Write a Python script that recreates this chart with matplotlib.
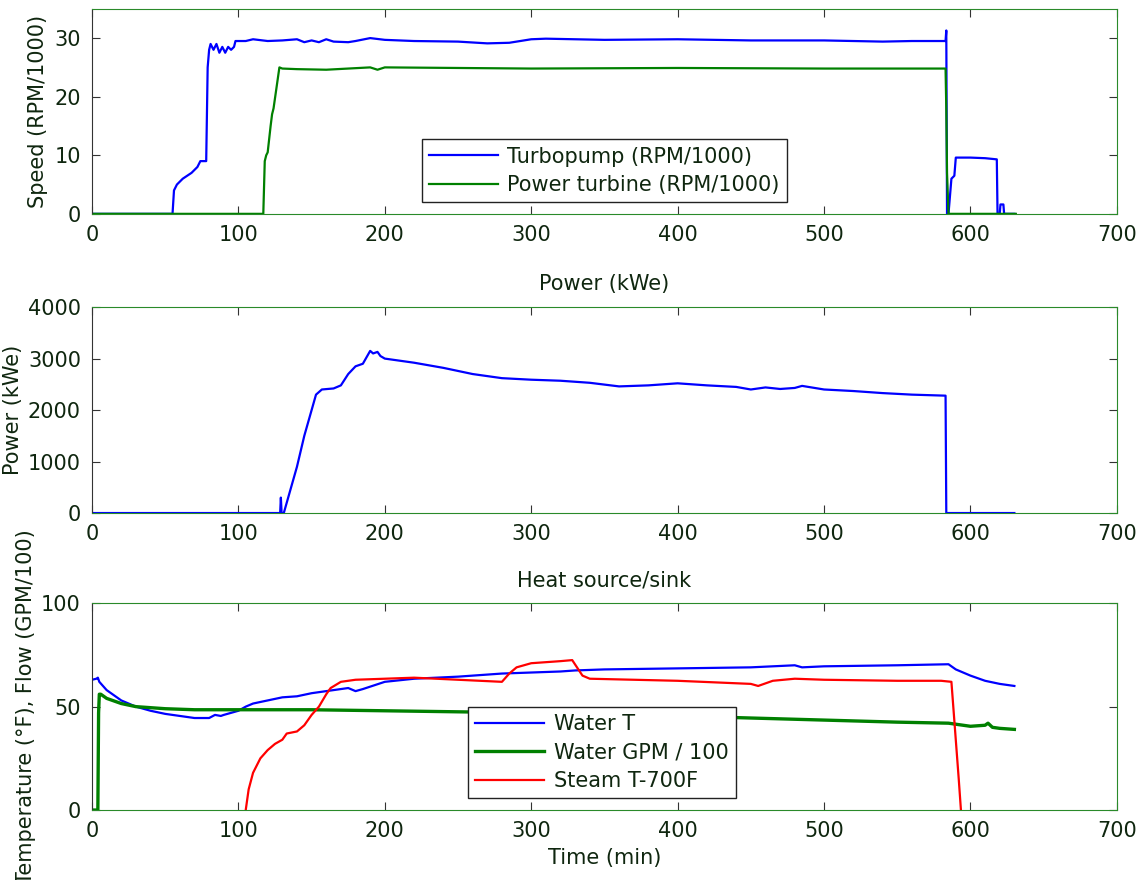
import numpy as np
import matplotlib
matplotlib.use("Agg")
import matplotlib.pyplot as plt

plt.rcParams['font.family'] = ['DejaVu Sans']
plt.rcParams['font.size'] = 15

# ---- data (time in minutes) ----
# turbopump speed (RPM/1000)
tp_t = [0, 55, 56, 58, 60, 62, 65, 68, 70, 72, 74, 78, 79, 80, 81, 83, 85, 87, 89, 91, 93, 95,
        97, 98, 100, 105, 110, 120, 130, 140, 145, 150, 155, 160, 165, 175, 180, 190, 200, 220,
        250, 270, 285, 300, 310, 350, 400, 450, 500, 540, 560, 583, 583.5, 584, 585, 586, 587,
        589, 590, 600, 610, 618, 618.5, 620, 620.5, 622.5, 623, 630]
tp_v = [0, 0, 4, 5, 5.5, 6, 6.5, 7, 7.5, 8, 9, 9, 25, 28, 29, 28, 29, 27.5, 28.5, 27.5, 28.5, 28,
        28.5, 29.5, 29.5, 29.5, 29.8, 29.5, 29.6, 29.8, 29.3, 29.6, 29.3, 29.8, 29.4, 29.3, 29.5,
        30, 29.7, 29.5, 29.4, 29.1, 29.2, 29.8, 29.9, 29.7, 29.8, 29.6, 29.6, 29.4, 29.5, 29.5,
        31.3, 0, 0, 3, 6, 6.5, 9.6, 9.6, 9.5, 9.3, 0, 0, 1.6, 1.6, 0, 0]
# power turbine speed (RPM/1000)
pt_t = [0, 117, 118, 119, 120, 122, 123, 124, 128, 130, 140, 160, 190, 195, 200, 300, 400, 500,
        583, 583.5, 584, 585, 631]
pt_v = [0, 0, 9, 10, 10.5, 15, 17, 18, 25, 24.8, 24.7, 24.6, 25, 24.6, 25, 24.8, 24.9, 24.8,
        24.8, 18, 7, 0, 0]

# electrical power (kWe)
pw_t = [0, 128.5, 129, 129.5, 131, 135, 140, 145, 150, 153, 157, 165, 170, 175, 180, 185, 188,
        190, 192, 195, 197, 200, 220, 240, 260, 280, 300, 320, 340, 360, 380, 400, 420, 440,
        450, 460, 470, 480, 485, 500, 520, 540, 560, 583, 583.5, 630]
pw_v = [0, 0, 300, 0, 0, 400, 900, 1500, 2000, 2300, 2400, 2420, 2480, 2700, 2850, 2900, 3050,
        3150, 3100, 3130, 3050, 3000, 2920, 2820, 2700, 2620, 2590, 2570, 2530, 2460, 2480,
        2520, 2480, 2450, 2400, 2440, 2410, 2430, 2470, 2400, 2370, 2330, 2300, 2280, 0, 0]

# heat source / sink
wt_t = [0, 3, 4, 5, 10, 20, 30, 40, 50, 60, 70, 80, 84, 88, 90, 95, 100, 105, 110, 120, 130,
        140, 150, 160, 170, 175, 180, 185, 200, 220, 250, 280, 300, 320, 330, 350, 400, 450,
        480, 485, 500, 550, 585, 590, 600, 610, 620, 630]
wt_v = [63, 63.5, 64, 62, 58, 53, 50, 48, 46.5, 45.5, 44.5, 44.5, 46, 45.5, 46, 47, 48, 50,
        51.5, 53, 54.5, 55, 56.5, 57.5, 58.5, 59, 57.5, 58.5, 62, 63.5, 64.5, 66, 66.5, 67,
        67.5, 68, 68.5, 69, 70, 69, 69.5, 70, 70.5, 68, 65, 62.5, 61, 60]
gpm_t = [0, 4, 4.5, 5, 6, 10, 20, 30, 50, 70, 100, 150, 200, 250, 300, 350, 400, 450, 500, 550,
         585, 600, 610, 612, 615, 620, 630]
gpm_v = [0, 0, 47, 56, 56, 54, 51.5, 50, 49, 48.5, 48.5, 48.5, 48, 47.5, 47, 46.5, 45.5, 44.5,
         43.5, 42.5, 42, 40.5, 41, 42, 40, 39.5, 39]
st_t = [105, 107, 110, 115, 120, 125, 130, 133, 140, 145, 150, 155, 160, 163, 170, 180, 200, 220,
        250, 280, 285, 290, 300, 320, 328, 335, 340, 400, 450, 455, 465, 480, 500, 550, 580, 587,
        592, 594]
st_v = [0, 10, 18, 25, 29, 32, 34, 37, 38, 41, 46, 50, 56, 59, 62, 63, 63.5, 64, 63, 62, 66, 69,
        71, 72, 72.5, 65, 63.5, 62.5, 61, 60, 62.5, 63.5, 63, 62.5, 62.5, 62, 15, -5]

txt = '#0f260f'
grn = '#2a8a2a'
dark = '#333333'

fig = plt.figure(figsize=(11.4, 8.8), dpi=100)
left, width = 0.0807, 0.899
ax1 = fig.add_axes([left, 0.757, width, 0.233])
ax2 = fig.add_axes([left, 0.417, width, 0.234])
ax3 = fig.add_axes([left, 0.0795, width, 0.235])

for ax in (ax1, ax2, ax3):
    ax.set_xlim(0, 700)
    ax.set_xticks(range(0, 701, 100))
    ax.tick_params(direction='in', length=6, top=True, right=True, colors=dark,
                   labelcolor=txt, labelsize=15, pad=8)
    for s in ('top', 'right', 'bottom'):
        ax.spines[s].set_color(grn)
    ax.spines['left'].set_color(dark)

leg_kw = dict(loc='upper left', borderaxespad=0, fancybox=False, edgecolor='#222222',
              handlelength=3.3, handletextpad=0.45, fontsize=15, labelspacing=0.4,
              borderpad=0.35, framealpha=1)

# top: speeds
ax1.plot(tp_t, tp_v, color='#0000ff', lw=1.6, label='Turbopump (RPM/1000)')
ax1.plot(pt_t, pt_v, color='#008000', lw=1.6, label='Power turbine (RPM/1000)')
ax1.set_ylim(0, 35)
ax1.set_yticks([0, 10, 20, 30])
ax1.set_ylabel('Speed (RPM/1000)', color=txt)
ax1.yaxis.set_label_coords(-0.043, 0.5)
leg = ax1.legend(bbox_to_anchor=(0.322, 0.363), **leg_kw)
for t in leg.get_texts():
    t.set_color(txt)

# middle: power
ax2.plot(pw_t, pw_v, color='#0000ff', lw=1.6)
ax2.set_ylim(0, 4000)
ax2.set_yticks(range(0, 4001, 1000))
ax2.set_ylabel('Power (kWe)', color=txt)
ax2.yaxis.set_label_coords(-0.067, 0.5)
ax2.set_title('Power (kWe)', color=txt, fontsize=15, pad=12)

# bottom: heat source/sink
ax3.plot(wt_t, wt_v, color='#0000ff', lw=1.6, label='Water T')
ax3.plot(gpm_t, gpm_v, color='#008000', lw=2.4, label='Water GPM / 100')
ax3.plot(st_t, st_v, color='#ff0000', lw=1.6, label='Steam T-700F')
ax3.set_ylim(0, 100)
ax3.set_yticks([0, 50, 100])
ax3.set_ylabel('Temperature (°F), Flow (GPM/100)', color=txt)
ax3.yaxis.set_label_coords(-0.055, 0.5)
ax3.set_xlabel('Time (min)', color=txt, labelpad=5)
ax3.set_title('Heat source/sink', color=txt, fontsize=15, pad=12)
leg3 = ax3.legend(bbox_to_anchor=(0.367, 0.498), **leg_kw)
for t in leg3.get_texts():
    t.set_color(txt)

fig.savefig('out.png', dpi=100)
